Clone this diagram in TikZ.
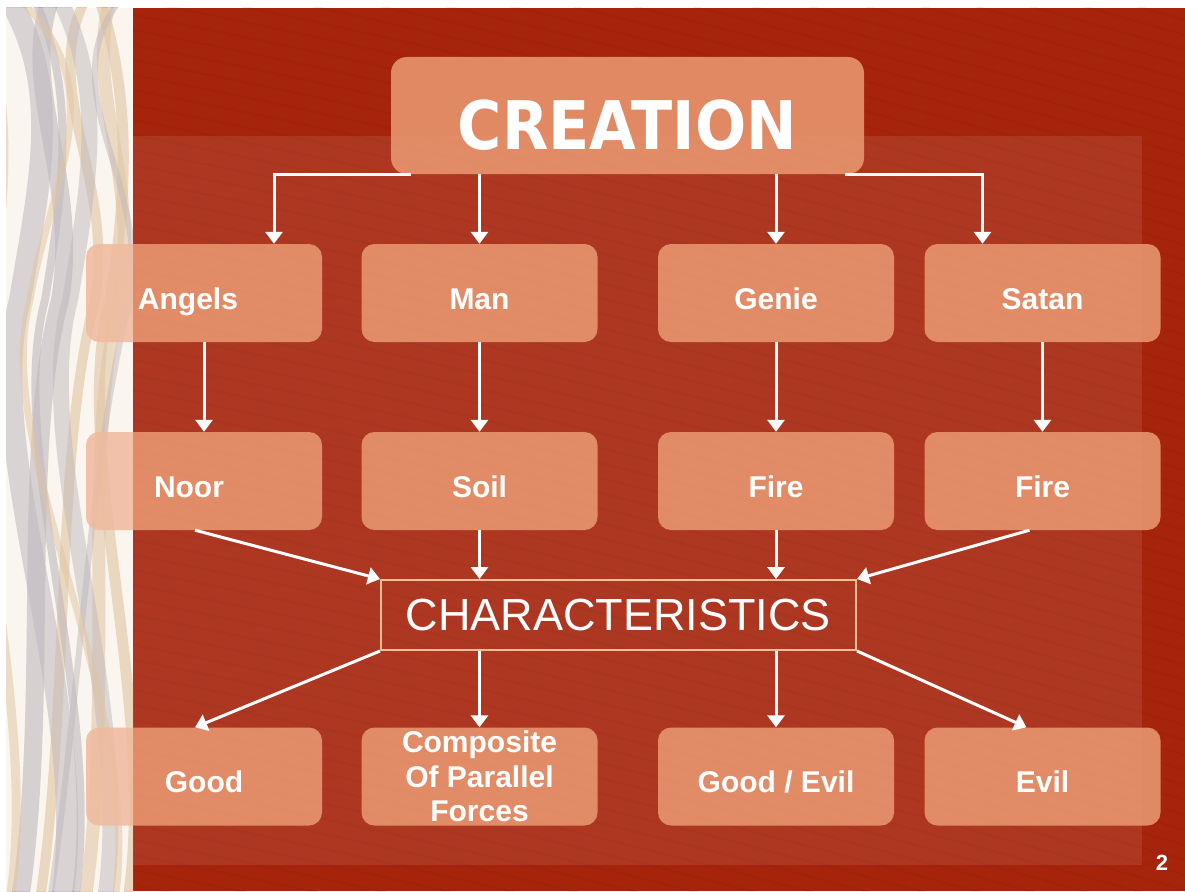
\documentclass[tikz,border=0pt]{standalone}
\usepackage{fontspec}
\setmainfont{Liberation Sans}
\newfontfamily\headfont[FakeStretch=0.9]{DejaVu Sans}
\usetikzlibrary{arrows.meta}
\definecolor{slidered}{RGB}{166,36,12}
\definecolor{wavered}{RGB}{110,18,8}
\definecolor{boxclr}{RGB}{235,155,115}
\definecolor{edgeclr}{RGB}{245,190,150}
\definecolor{silk}{RGB}{250,245,238}
\definecolor{silktan}{RGB}{210,170,120}
\definecolor{silkgrey}{RGB}{160,152,165}
\tikzset{
  box/.style={rectangle,rounded corners=13pt,fill=boxclr,fill opacity=0.85,text opacity=1,text=white,
    font=\bfseries\fontsize{30}{34.5}\selectfont,minimum width=236pt,minimum height=98pt,inner sep=0pt},
  word/.style={box,text height=32pt,text depth=0pt},
  arr/.style={draw=white,line width=3pt,-{Triangle[width=17pt,length=12pt]}}
}
\begin{document}
\begin{tikzpicture}[x=1pt,y=-1pt]
\useasboundingbox (0,0) rectangle (1185,891);
\fill[white] (0,0) rectangle (1185,891);
\fill[slidered] (133,8) rectangle (1185,891);
\begin{scope}
\clip (133,8) rectangle (1185,891);
\foreach \k in {-20,...,60}
  \draw[wavered,line width=2pt,opacity=0.09] (133,\k*15) .. controls (450,\k*15+60) and (800,\k*15+150) .. (1185,\k*15+260);
\end{scope}
\fill[white,opacity=0.09] (133,136) rectangle (1142,865);
\begin{scope}
\clip (6,8) rectangle (133,891);
\fill[silk] (6,8) rectangle (133,891);
\foreach \xa/\xb/\col/\w/\op in {20/60/silkgrey/18/0.6,40/95/silktan/10/0.6,62/20/silkgrey/22/0.55,85/120/silktan/13/0.55,
    105/70/silkgrey/16/0.5,128/110/silktan/11/0.6,10/-10/silktan/9/0.5,75/45/silkgrey/8/0.6,50/130/silkgrey/6/0.5,115/30/silktan/7/0.5}
  \draw[\col,line width=\w pt,opacity=\op] (\xa,900) .. controls (\xa+30,700) and (\xb-40,450) .. (\xb,300) .. controls (\xb+20,180) and (\xa,90) .. (\xb-10,0);
\end{scope}

\node[box,minimum width=473pt,minimum height=117pt,rounded corners=16pt,font=\headfont\bfseries\fontsize{67}{70}\selectfont,text height=67pt,text depth=0pt] (creation) at (627.5,115.5) {CREATION};

\node[word] (angels) at (204,293) {\hspace*{-32pt}Angels};
\node[word] (man) at (479.5,293) {Man};
\node[word] (genie) at (776,293) {Genie};
\node[word] (satan) at (1042.5,293) {Satan};

\node[word] (noor) at (204,481) {\hspace*{-30pt}Noor};
\node[word] (soil) at (479.5,481) {Soil};
\node[word] (firegenie) at (776,481) {Fire};
\node[word] (firesatan) at (1042.5,481) {Fire};

\node[draw=edgeclr,line width=2pt,minimum width=475pt,minimum height=70pt,inner sep=0pt,text=white,font=\fontsize{45}{50}\selectfont] (chars) at (618.5,615) {CHARACTERISTICS};

\node[word] (good) at (204,776.5) {Good};
\node[box,align=center] (composite) at (479.5,776.5) {Composite\\Of Parallel\\Forces};
\node[word] (goodevil) at (776,776.5) {Good / Evil};
\node[word] (evil) at (1042.5,776.5) {Evil};

\fill[silk,opacity=0.35] (6,8) rectangle (133,891);

\node[text=white,font=\bfseries\fontsize{22}{24}\selectfont] (pagenum) at (1162,863) {2};

\draw[arr] ([xshift=20pt]creation.south west) -| ([xshift=70pt]angels.north);
\draw[arr] (man.north |- creation.south) -- (man.north);
\draw[arr] (genie.north |- creation.south) -- (genie.north);
\draw[arr] ([xshift=-19pt]creation.south east) -| ([xshift=-60pt]satan.north);

\draw[arr] (angels) -- (noor);
\draw[arr] (man) -- (soil);
\draw[arr] (genie) -- (firegenie);
\draw[arr] (satan) -- (firesatan);

\draw[arr] ([xshift=-9pt]noor.south) -- (chars.north west);
\draw[arr] (soil.south) -- (soil.south |- chars.north);
\draw[arr] (firegenie.south) -- (firegenie.south |- chars.north);
\draw[arr] ([xshift=-13pt]firesatan.south) -- (chars.north east);

\draw[arr] (chars.south west) -- ([xshift=-9pt]good.north);
\draw[arr] (composite.north |- chars.south) -- (composite.north);
\draw[arr] (goodevil.north |- chars.south) -- (goodevil.north);
\draw[arr] (chars.south east) -- ([xshift=-16pt]evil.north);
\end{tikzpicture}
\end{document}
